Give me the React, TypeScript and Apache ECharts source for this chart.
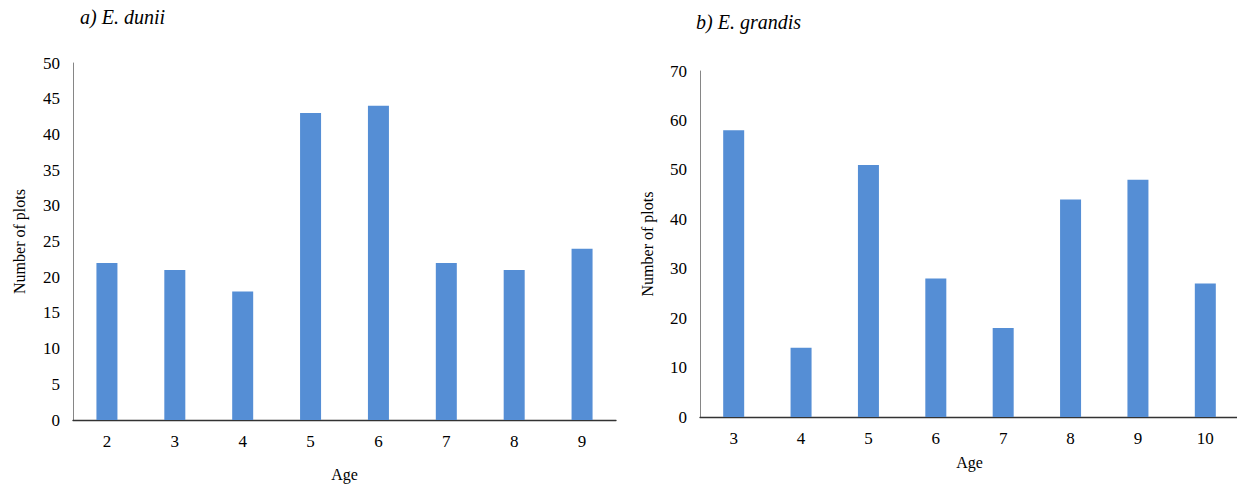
import React, { useEffect, useRef } from "react";
import * as echarts from "echarts";

const dunniAges = ["2", "3", "4", "5", "6", "7", "8", "9"];
const dunniPlots = [22, 21, 18, 43, 44, 22, 21, 24];
const grandisAges = ["3", "4", "5", "6", "7", "8", "9", "10"];
const grandisPlots = [58, 14, 51, 28, 18, 44, 48, 27];
const titleA = "a) E. dunii";
const titleB = "b) E. grandis";

const FONT = "Liberation Serif, Times New Roman, serif";
const BAR = "#558ED5";

export default function App() {
  const ref = useRef<HTMLDivElement>(null);
  useEffect(() => {
    document.body.style.margin = "0";
    const chart = echarts.init(ref.current!, null, { renderer: "svg" });
    const yAxisCommon = {
      type: "value" as const,
      min: 0,
      name: "Number of plots",
      nameLocation: "middle" as const,
      nameTextStyle: { fontFamily: FONT, fontSize: 16, color: "#000" },
      axisLine: { show: true, lineStyle: { color: "#868686", width: 1 } },
      axisTick: { show: false },
      splitLine: { show: false },
      axisLabel: { fontFamily: FONT, fontSize: 17, color: "#000", margin: 13 },
    };
    const xAxisCommon = {
      type: "category" as const,
      name: "Age",
      nameLocation: "middle" as const,
      nameTextStyle: { fontFamily: FONT, fontSize: 16, color: "#000" },
      axisLine: { show: true, lineStyle: { color: "#333", width: 1.3 } },
      axisTick: { show: false },
      axisLabel: { fontFamily: FONT, fontSize: 17, color: "#000", margin: 13 },
    };
    chart.setOption({
      animation: false,
      textStyle: { fontFamily: FONT },
      title: [
        {
          text: titleA,
          left: 80,
          top: 7,
          padding: 0,
          textStyle: { fontFamily: FONT, fontSize: 20, fontStyle: "italic", fontWeight: "normal", color: "#000" },
        },
        {
          text: titleB,
          left: 696,
          top: 12,
          padding: 0,
          textStyle: { fontFamily: FONT, fontSize: 20, fontStyle: "italic", fontWeight: "normal", color: "#000" },
        },
      ],
      grid: [
        { left: 73, top: 63, width: 543, height: 357, outerBoundsMode: "none", containLabel: false },
        { left: 700, top: 71, width: 539, height: 346, outerBoundsMode: "none", containLabel: false },
      ],
      xAxis: [
        { ...xAxisCommon, gridIndex: 0, data: dunniAges, nameGap: 46 },
        { ...xAxisCommon, gridIndex: 1, data: grandisAges, nameGap: 37 },
      ],
      yAxis: [
        { ...yAxisCommon, gridIndex: 0, max: 50, interval: 5, nameGap: 46 },
        { ...yAxisCommon, gridIndex: 1, max: 70, interval: 10, nameGap: 45 },
      ],
      series: [
        {
          type: "bar",
          xAxisIndex: 0,
          yAxisIndex: 0,
          data: dunniPlots,
          barWidth: 21,
          itemStyle: { color: BAR },
        },
        {
          type: "bar",
          xAxisIndex: 1,
          yAxisIndex: 1,
          data: grandisPlots,
          barWidth: 21,
          itemStyle: { color: BAR },
        },
      ],
    });
    return () => chart.dispose();
  }, []);
  return <div ref={ref} style={{ width: 1237, height: 486 }} />;
}
